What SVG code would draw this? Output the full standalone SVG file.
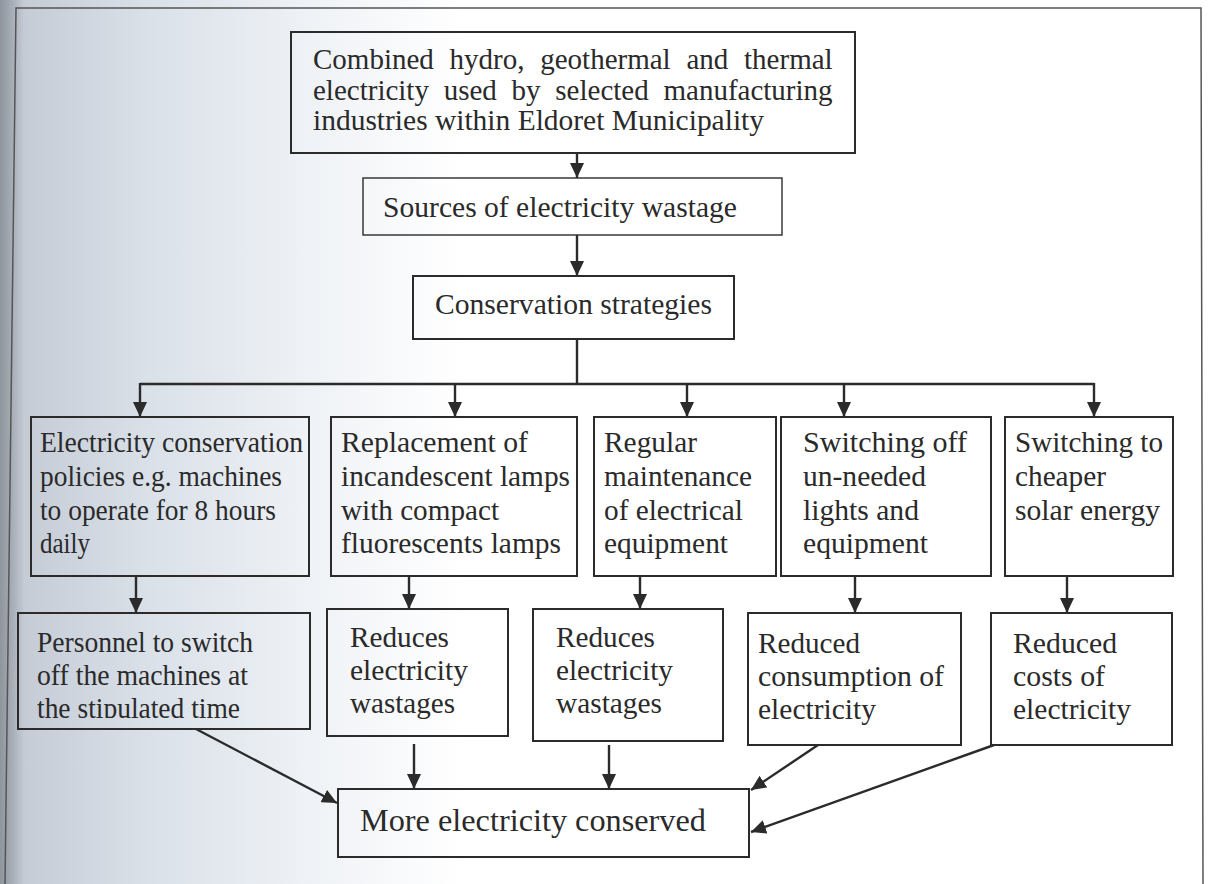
<svg xmlns="http://www.w3.org/2000/svg" width="1211" height="884" viewBox="0 0 1211 884">
<style>
.box{fill:none;stroke:#2b2b2b;stroke-width:2}
.t{font-family:"Liberation Serif","Times New Roman",serif;font-size:29px;fill:#2a2a2a}
.c{fill:none;stroke:#2b2b2b;stroke-width:2.4}
.frame{fill:none;stroke:#555;stroke-width:1.5}
</style>
<defs>
<linearGradient id="bg" x1="0" y1="0" x2="1" y2="0">
<stop offset="0" stop-color="#8f959d"/>
<stop offset="0.011" stop-color="#a9b0b9"/>
<stop offset="0.02" stop-color="#c5ccd6"/>
<stop offset="0.12" stop-color="#d9e0e8"/>
<stop offset="0.25" stop-color="#eef1f5"/>
<stop offset="0.38" stop-color="#ffffff"/>
<stop offset="1" stop-color="#ffffff"/>
</linearGradient>
<marker id="ah" markerUnits="userSpaceOnUse" markerWidth="15" markerHeight="14" refX="15" refY="7" orient="auto">
<path d="M0,0 L15,7 L0,14 z" fill="#2b2b2b"/>
</marker>
<clipPath id="clipP"><rect x="18" y="613" width="292" height="105"/></clipPath>
</defs>
<rect x="0" y="0" width="1211" height="884" fill="url(#bg)"/>
<g id="frame">
<path class="frame" d="M5,884 L16,8 L1201,8 L1203,884"/>
</g>

<g id="connectors">
<line class="c" x1="577" y1="153" x2="577" y2="178" marker-end="url(#ah)"/>
<line class="c" x1="577" y1="235" x2="577" y2="276" marker-end="url(#ah)"/>
<polyline class="c" points="577,339 577,384"/>
<polyline class="c" points="140,384 1094,384"/>
<line class="c" x1="140" y1="383" x2="140" y2="417" marker-end="url(#ah)"/>
<line class="c" x1="455" y1="383" x2="455" y2="417" marker-end="url(#ah)"/>
<line class="c" x1="687" y1="383" x2="687" y2="417" marker-end="url(#ah)"/>
<line class="c" x1="844" y1="383" x2="844" y2="417" marker-end="url(#ah)"/>
<line class="c" x1="1094" y1="383" x2="1094" y2="417" marker-end="url(#ah)"/>
<line class="c" x1="136" y1="576" x2="136" y2="613" marker-end="url(#ah)"/>
<line class="c" x1="409" y1="576" x2="409" y2="609" marker-end="url(#ah)"/>
<line class="c" x1="640" y1="576" x2="640" y2="609" marker-end="url(#ah)"/>
<line class="c" x1="855" y1="576" x2="855" y2="613" marker-end="url(#ah)"/>
<line class="c" x1="1067" y1="576" x2="1067" y2="613" marker-end="url(#ah)"/>
<line class="c" x1="196" y1="729" x2="337" y2="803" marker-end="url(#ah)"/>
<line class="c" x1="414" y1="744" x2="414" y2="789" marker-end="url(#ah)"/>
<line class="c" x1="609" y1="745" x2="609" y2="789" marker-end="url(#ah)"/>
<line class="c" x1="818" y1="745" x2="751" y2="790" marker-end="url(#ah)"/>
<line class="c" x1="994" y1="745" x2="751" y2="832" marker-end="url(#ah)"/>
</g>

<g id="n-top">
<rect class="box" x="291" y="32" width="564" height="121"/>
<text class="t" x="313" y="69" style="word-spacing:8.5px">Combined hydro, geothermal and thermal</text>
<text class="t" x="313" y="100" style="word-spacing:7.5px">electricity used by selected manufacturing</text>
<text class="t" x="313" y="130" textLength="451" lengthAdjust="spacingAndGlyphs">industries within Eldoret Municipality</text>
</g>
<g id="n-sources">
<rect class="box" x="363" y="178" width="419" height="57" style="stroke-width:1.4"/>
<text class="t" x="383" y="217" textLength="354" lengthAdjust="spacingAndGlyphs">Sources of electricity wastage</text>
</g>
<g id="n-strategies">
<rect class="box" x="413" y="276" width="321" height="63"/>
<text class="t" x="435" y="314" textLength="277" lengthAdjust="spacingAndGlyphs">Conservation strategies</text>
</g>

<g id="n-policies">
<rect class="box" x="31" y="417" width="278" height="159"/>
<text class="t" x="40" y="452" textLength="263" lengthAdjust="spacingAndGlyphs">Electricity conservation</text>
<text class="t" x="40" y="486" textLength="242" lengthAdjust="spacingAndGlyphs">policies e.g. machines</text>
<text class="t" x="40" y="520" textLength="236" lengthAdjust="spacingAndGlyphs">to operate for 8 hours</text>
<text class="t" x="40" y="553" textLength="50" lengthAdjust="spacingAndGlyphs">daily</text>
</g>
<g id="n-replacement">
<rect class="box" x="331" y="417" width="246" height="159"/>
<text class="t" x="341" y="452" textLength="187" lengthAdjust="spacingAndGlyphs">Replacement of</text>
<text class="t" x="341" y="486" textLength="229" lengthAdjust="spacingAndGlyphs">incandescent lamps</text>
<text class="t" x="341" y="520" textLength="158" lengthAdjust="spacingAndGlyphs">with compact</text>
<text class="t" x="341" y="553" textLength="220" lengthAdjust="spacingAndGlyphs">fluorescents lamps</text>
</g>
<g id="n-maintenance">
<rect class="box" x="594" y="417" width="182" height="159"/>
<text class="t" x="604" y="452" textLength="93" lengthAdjust="spacingAndGlyphs">Regular</text>
<text class="t" x="604" y="486" textLength="148" lengthAdjust="spacingAndGlyphs">maintenance</text>
<text class="t" x="604" y="520" textLength="139" lengthAdjust="spacingAndGlyphs">of electrical</text>
<text class="t" x="604" y="553" textLength="124" lengthAdjust="spacingAndGlyphs">equipment</text>
</g>
<g id="n-switchoff">
<rect class="box" x="781" y="417" width="210" height="159"/>
<text class="t" x="803" y="452" textLength="164" lengthAdjust="spacingAndGlyphs">Switching off</text>
<text class="t" x="803" y="486" textLength="123" lengthAdjust="spacingAndGlyphs">un-needed</text>
<text class="t" x="803" y="520" textLength="116" lengthAdjust="spacingAndGlyphs">lights and</text>
<text class="t" x="803" y="553" textLength="125" lengthAdjust="spacingAndGlyphs">equipment</text>
</g>
<g id="n-solar">
<rect class="box" x="1005" y="417" width="168" height="159"/>
<text class="t" x="1015" y="452" textLength="148" lengthAdjust="spacingAndGlyphs">Switching to</text>
<text class="t" x="1015" y="486" textLength="91" lengthAdjust="spacingAndGlyphs">cheaper</text>
<text class="t" x="1015" y="520" textLength="145" lengthAdjust="spacingAndGlyphs">solar energy</text>
</g>

<g id="n-personnel">
<rect class="box" x="18" y="613" width="292" height="116"/>
<g clip-path="url(#clipP)">
<text class="t" x="37" y="652" textLength="216" lengthAdjust="spacingAndGlyphs">Personnel to switch</text>
<text class="t" x="37" y="685" textLength="211" lengthAdjust="spacingAndGlyphs">off the machines at</text>
<text class="t" x="37" y="718" textLength="203" lengthAdjust="spacingAndGlyphs">the stipulated time</text>
</g>
</g>
<g id="n-reduces1">
<rect class="box" x="327" y="609" width="181" height="127"/>
<text class="t" x="350" y="647" textLength="99" lengthAdjust="spacingAndGlyphs">Reduces</text>
<text class="t" x="350" y="680" textLength="118" lengthAdjust="spacingAndGlyphs">electricity</text>
<text class="t" x="350" y="713" textLength="105" lengthAdjust="spacingAndGlyphs">wastages</text>
</g>
<g id="n-reduces2">
<rect class="box" x="533" y="609" width="190" height="132"/>
<text class="t" x="556" y="647" textLength="99" lengthAdjust="spacingAndGlyphs">Reduces</text>
<text class="t" x="556" y="680" textLength="117" lengthAdjust="spacingAndGlyphs">electricity</text>
<text class="t" x="556" y="713" textLength="106" lengthAdjust="spacingAndGlyphs">wastages</text>
</g>
<g id="n-consumption">
<rect class="box" x="748" y="613" width="213" height="132"/>
<text class="t" x="758" y="653" textLength="102" lengthAdjust="spacingAndGlyphs">Reduced</text>
<text class="t" x="758" y="686" textLength="186" lengthAdjust="spacingAndGlyphs">consumption of</text>
<text class="t" x="758" y="719" textLength="118" lengthAdjust="spacingAndGlyphs">electricity</text>
</g>
<g id="n-costs">
<rect class="box" x="991" y="613" width="181" height="132"/>
<text class="t" x="1013" y="653" textLength="104" lengthAdjust="spacingAndGlyphs">Reduced</text>
<text class="t" x="1013" y="686" textLength="92" lengthAdjust="spacingAndGlyphs">costs of</text>
<text class="t" x="1013" y="719" textLength="118" lengthAdjust="spacingAndGlyphs">electricity</text>
</g>

<g id="n-final">
<rect class="box" x="338" y="789" width="411" height="68"/>
<text class="t" x="360" y="831" textLength="346" lengthAdjust="spacingAndGlyphs" style="font-size:31px">More electricity conserved</text>
</g>
</svg>
